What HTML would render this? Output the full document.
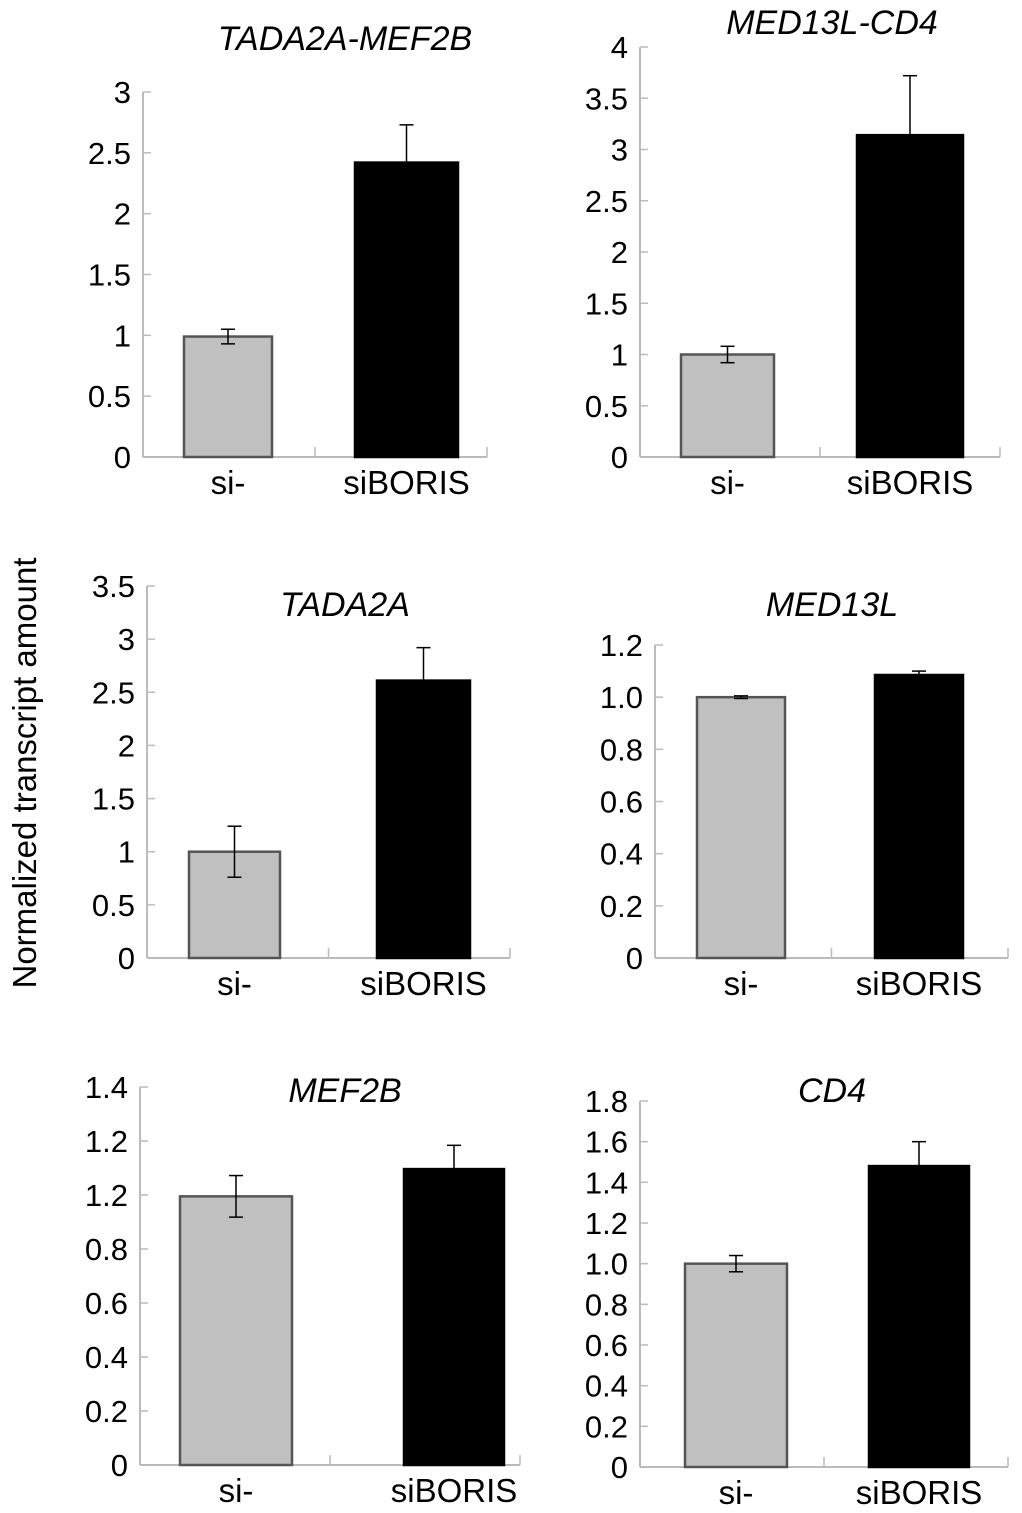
<!DOCTYPE html>
<html><head><meta charset="utf-8"><style>
html,body{margin:0;padding:0;background:#fff;}
svg{display:block;font-family:"Liberation Sans",Arial,sans-serif;}
</style></head><body>
<svg id="chart" width="1022" height="1513" viewBox="0 0 1022 1513">
<text x="0" y="0" transform="translate(36,773) rotate(-90)" text-anchor="middle" font-size="33" fill="#000">Normalized transcript amount</text>
</svg>
<script>
const titles = ["TADA2A-MEF2B","MED13L-CD4","TADA2A","MED13L","MEF2B","CD4"];
const categories = ["si-","siBORIS"];
const values1 = [0.99,2.42];  const errors1 = [0.06,0.31];
const values2 = [1.0,3.14];   const errors2 = [0.08,0.58];
const values3 = [1.0,2.61];   const errors3 = [0.24,0.31];
const values4 = [1.0,1.085];  const errors4 = [0.005,0.015];
const values5 = [0.995,1.096];const errors5 = [0.077,0.088];
const values6 = [1.0,1.48];   const errors6 = [0.04,0.12];
const ticks1 = ["0","0.5","1","1.5","2","2.5","3"];
const ticks2 = ["0","0.5","1","1.5","2","2.5","3","3.5","4"];
const ticks3 = ["0","0.5","1","1.5","2","2.5","3","3.5"];
const ticks4 = ["0","0.2","0.4","0.6","0.8","1.0","1.2"];
const ticks5 = ["0","0.2","0.4","0.6","0.8","1.2","1.2","1.4"];
const ticks6 = ["0","0.2","0.4","0.6","0.8","1.0","1.2","1.4","1.6","1.8"];
const tickSteps = [0.5,0.5,0.5,0.2,0.2,0.2];

const layout = [
 {ax:143,x1:487,y0:457,yTop:92,bars:[[184,272],[355,458]],ty:50,tx:345},
 {ax:640,x1:1000,y0:457,yTop:47,bars:[[681,774],[857,963]],ty:34,tx:832},
 {ax:147,x1:510,y0:958,yTop:586,bars:[[189,280],[377,470]],ty:616,tx:345},
 {ax:655,x1:1008,y0:958,yTop:645,bars:[[697,785],[875,963]],ty:616,tx:832},
 {ax:140,x1:520,y0:1465,yTop:1087,bars:[[180,292],[404,504]],ty:1102,tx:345},
 {ax:640,x1:1008,y0:1467,yTop:1101,bars:[[685,787],[869,969]],ty:1102,tx:832}
];
const allVals=[values1,values2,values3,values4,values5,values6];
const allErr=[errors1,errors2,errors3,errors4,errors5,errors6];
const allTicks=[ticks1,ticks2,ticks3,ticks4,ticks5,ticks6];
const svg=document.getElementById('chart');
const NS="http://www.w3.org/2000/svg";
const AX='#bbb';
function mk(tag,attrs,parent){const e=document.createElementNS(NS,tag);for(const k in attrs)e.setAttribute(k,attrs[k]);parent.appendChild(e);return e;}
layout.forEach((L,p)=>{
  const g=mk('g',{},svg);
  
  
  const ticks=allTicks[p], step=tickSteps[p];
  const maxV=(ticks.length-1)*step;
  const y=v=>L.y0-(v/maxV)*(L.y0-L.yTop);
  const t=mk('text',{x:L.tx,y:L.ty,'text-anchor':'middle','font-size':34,'font-style':'italic',fill:'#000'},g);
  t.textContent=titles[p];
  
  
  const ya=mk('line',{x1:L.ax,y1:L.yTop,x2:L.ax,y2:L.y0,stroke:AX,'stroke-width':2},g);
  
  
  ticks.forEach((lab,i)=>{
    const yy=y(i*step);
    mk('line',{x1:L.ax,y1:yy,x2:L.ax+8,y2:yy,stroke:AX,'stroke-width':1.5},g);
    const tl=mk('text',{x:L.ax-12,y:yy+11,'text-anchor':'end','font-size':31,fill:'#000'},g);
    tl.textContent=lab;
    
    
  });
  const xa=mk('line',{x1:L.ax,y1:L.y0,x2:L.x1,y2:L.y0,stroke:AX,'stroke-width':2},g);
  
  
  const mid=(L.ax+L.x1)/2;
  mk('line',{x1:mid,y1:L.y0,x2:mid,y2:L.y0-10,stroke:AX,'stroke-width':1.5},g);
  mk('line',{x1:L.x1,y1:L.y0,x2:L.x1,y2:L.y0-10,stroke:AX,'stroke-width':1.5},g);
  categories.forEach((c,i)=>{
    const [bx0,bx1]=L.bars[i]; const v=allVals[p][i], e=allErr[p][i];
    const cx=(bx0+bx1)/2;
    const r=mk('rect',{x:bx0,y:y(v),width:bx1-bx0,height:L.y0-y(v),fill:i?'#000':'#c0c0c0',stroke:i?'#000':'#555','stroke-width':2.5},g);
    
    
    const eg=mk('g',{stroke:'#000','stroke-width':1.5},g);
    
    
    const lo = i ? v : v-e;
    mk('line',{x1:cx,y1:y(v+e),x2:cx,y2:y(lo)},eg);
    mk('line',{x1:cx-7,y1:y(v+e),x2:cx+7,y2:y(v+e)},eg);
    if(!i) mk('line',{x1:cx-7,y1:y(v-e),x2:cx+7,y2:y(v-e)},eg);
    const xl=mk('text',{x:cx,y:L.y0+37,'text-anchor':'middle','font-size':33,fill:'#000'},g);
    xl.textContent=c;
    
    
  });
});
</script>
</body></html>
